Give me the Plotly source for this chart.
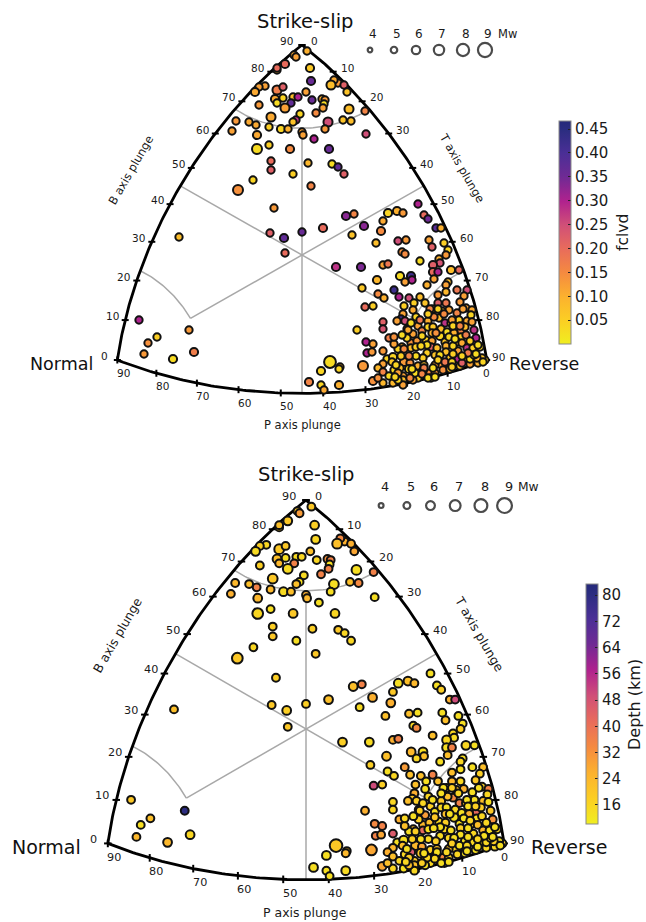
import numpy as np
import plotly.graph_objects as go

# Events, in diagram units (Kaverina coordinates x 328 horizontally, x 323 vertically)
event_x = [
 5,-8,-6,-25,-25,-17,8,9,36,32,
 29,42,45,-37,-43,-47,-25,-19,4,-27,
 -25,-19,-9,-4,-11,-17,10,20,23,22,
 21,14,47,63,-43,-31,-2,-6,-9,26,
 41,49,-66,-53,-46,-33,-21,-14,-70,23,
 0,1,-45,12,64,-45,-33,-12,27,-31,
 -31,6,30,36,42,-9,-49,-64,9,-28,
 44,21,0,-32,-18,-17,-123,52,62,50,
 79,74,86,81,95,101,116,122,126,134,
 139,96,104,127,130,142,146,144,100,103,
 118,137,138,131,131,136,59,34,81,86,
 149,157,75,98,109,110,103,132,125,60,
 146,144,155,165,76,92,97,107,118,136,
 144,162,82,63,71,102,112,101,111,114,
 123,136,131,144,147,158,140,155,164,170,
 137,126,99,95,103,81,81,116,120,105,
 111,126,131,143,149,157,165,138,139,151,
 159,163,172,130,124,159,174,109,115,130,
 143,155,160,64,71,100,96,109,114,129,
 135,144,165,156,171,178,65,70,81,144,
 125,133,121,85,91,90,61,102,108,81,
 76,81,92,101,98,107,116,122,140,133,
 148,156,165,171,176,183,180,148,158,168,
 128,133,141,148,121,111,116,71,81,91,
 101,111,101,129,-163,-145,-154,-158,-129,-113,
 -108,55,28,38,37,19,7,19,37,22,
 128,136,161,169,132,150,164,106,120,145,
 152,125,102,151,138,136,143,150,160,168,
 175,181,172,122,131,150,96,113,120,126,
 96,108,133,92,87,105,100,92,119,114,
 107,99,94,87,76,93,110,118,109,126,
 142,151,158,170,176,168,174,166,160,151,
 147,153,134]
event_y = [
 204,200,198,185,187,191,187,174,172,175,
 170,170,163,169,168,163,165,168,163,156,
 152,157,158,158,152,147,155,156,155,151,
 147,142,146,144,150,138,141,135,133,133,
 135,134,134,133,130,128,126,126,124,126,
 123,120,120,116,121,106,110,106,106,94,
 85,92,91,88,81,81,75,65,69,47,
 39,27,23,22,17,2,18,41,29,20,
 24,12,42,34,44,42,51,40,36,27,
 27,14,15,15,8,12,5,0,3,1,
 -6,-4,-8,-10,-17,-17,-12,-12,-10,-9,
 -15,-15,-25,-21,-21,-25,-27,-24,-30,-33,
 -27,-30,-35,-35,-39,-35,-42,-43,-42,-40,
 -37,-41,-43,-52,-51,-51,-48,-59,-55,-62,
 -48,-48,-54,-48,-55,-47,-56,-58,-53,-55,
 -63,-66,-64,-66,-66,-67,-74,-71,-76,-74,
 -79,-72,-72,-68,-68,-65,-66,-81,-74,-77,
 -76,-72,-75,-78,-85,-82,-83,-88,-86,-86,
 -87,-87,-88,-87,-89,-92,-94,-93,-92,-92,
 -93,-91,-93,-96,-93,-92,-98,-97,-96,-97,
 -98,-100,-103,-104,-102,-107,-111,-107,-108,-109,
 -113,-117,-115,-121,-113,-114,-111,-110,-110,-110,
 -103,-104,-104,-107,-108,-105,-103,-110,-111,-109,
 -118,-118,-115,-114,-115,-119,-123,-126,-128,-128,
 -125,-125,-130,-123,-65,-82,-88,-99,-104,-75,
 -97,-75,-107,-112,-114,-116,-127,-130,-130,-135,
 -54,-54,-54,-60,-62,-65,-80,-75,-81,-77,
 -78,-90,-94,-91,-100,-105,-107,-107,-108,-104,
 -103,-107,-100,-113,-113,-112,-118,-118,-119,-123,
 -125,-123,-122,-89,-83,-83,-80,-82,-91,-101,
 -101,-101,-110,-121,-123,-122,-114,-65,-68,-59,
 -59,-71,-71,-67,-90,-86,-99,-98,-101,-99,
 -82,-84,-78]
event_mw = [
 5,5,5,5,5,5.5,5.5,5.5,5,5,
 6,5,5,5,5,5.5,6,5,5,5.5,
 5,5,5,5,5,6,5,5,5,5,
 5,5,6,5,5,6,5,5,5,6,
 5,5,5,5,5,5,5.5,5,5,5,
 5,5,5.5,5,5,6.5,5,5.5,5.5,5,
 5,5,5,5,5,5,5,6.5,5,5,
 5.5,5.5,5,5,5.5,5,5,5,5.5,5,
 5.5,5,5.5,5,5.5,5,5,5,5,5,
 5,5,5,5,5,5,5,5,5,5,
 5,5,5,5.5,5.5,5,5.5,5.5,5,5,
 5.5,5,5.5,5.5,5.5,5,5,5,5,5,
 5,5,5,5,5,5,5,5,5,5,
 5,5,5,5,5,5,5,5,5,5,
 5,5,5,5,5,5,5,5,5,5,
 5,5,5,5,5,5,5,5,5,5,
 5,5,5,5,5,5,5,5.5,5,5,
 5,5,5,5,5,5,5,5,5,5,
 5,5,5,5,5,5,5,5,5,5,
 5,5,5,5,5,5,5,5,5,5,
 5,5,5,5,5.5,5,6.5,5.5,5,5,
 5,5,5,5,5,5.5,5,5,5.5,5,
 5,5,5,5,5,5,5,5,5,5,
 5,5,5,5,5,5,5,5.5,5,5,
 5,5,5,5,5,5,5,5,5.5,5,
 5.5,5,7.5,5,5,5.5,5.5,5,5.5,5,
 5,5,5,5,5,5,5,5,5,5,
 5,5,5,5,5,5,5,5,5,5,
 5,5,5,5,5,5,5,5,5,5,
 5,5,5,5,5,5,5,5,5,5,
 5,5,5,5,5,5,5,5,5,5,
 5,5,5,5,5,5,5,5,5,5,
 5,5,5]
event_fclvd = [
 .10,.11,.12,.09,.20,.20,.06,.36,.13,.11,
 .08,.22,.07,.12,.12,.11,.17,.22,.12,.11,
 .03,.04,.08,.30,.37,.12,.36,.10,.13,.03,
 .12,.15,.08,.16,.13,.11,.04,.28,.07,.25,
 .07,.08,.13,.11,.11,.05,.04,.10,.12,.13,
 .12,.12,.11,.30,.25,.03,.05,.15,.36,.20,
 .22,.09,.03,.37,.22,.05,.04,.14,.16,.13,
 .33,.20,.36,.22,.37,.20,.08,.16,.33,.07,
 .15,.08,.04,.11,.10,.13,.30,.20,.35,.38,
 .10,.25,.13,.12,.22,.05,.04,.13,.14,.15,
 .03,.10,.24,.22,.20,.30,.34,.28,.12,.18,
 .08,.20,.09,.03,.42,.30,.12,.12,.10,.06,
 .08,.12,.18,.25,.15,.42,.30,.25,.08,.13,
 .09,.12,.10,.20,.05,.05,.05,.12,.11,.04,
 .07,.22,.11,.18,.12,.13,.07,.16,.12,.11,
 .08,.10,.42,.12,.25,.22,.24,.12,.16,.11,
 .12,.04,.06,.28,.08,.05,.11,.04,.08,.13,
 .16,.08,.28,.10,.05,.05,.30,.14,.13,.12,
 .07,.08,.11,.30,.12,.10,.04,.08,.05,.22,
 .08,.10,.28,.12,.05,.04,.30,.13,.13,.07,
 .05,.07,.05,.04,.04,.06,.13,.13,.14,.12,
 .09,.16,.04,.12,.08,.04,.10,.08,.13,.12,
 .06,.30,.10,.07,.10,.06,.07,.05,.08,.12,
 .15,.14,.14,.08,.05,.11,.05,.14,.09,.09,
 .08,.12,.12,.05,.30,.05,.14,.13,.03,.13,
 .17,.05,.03,.10,.04,.04,.16,.04,.10,.11,
 .16,.04,.12,.04,.15,.12,.17,.11,.04,.03,
 .10,.03,.15,.04,.03,.05,.18,.04,.22,.03,
 .10,.04,.05,.17,.03,.05,.12,.03,.16,.03,
 .04,.15,.03,.12,.17,.04,.03,.14,.04,.03,
 .16,.05,.04,.03,.14,.04,.03,.18,.03,.05,
 .15,.04,.16,.12,.03,.05,.03,.17,.04,.05,
 .04,.03,.14]
event_depth = [
 20,20,30,18,22,20,18,16,26,34,
 22,26,28,16,18,15,20,20,22,22,
 24,14,15,16,36,15,16,32,36,14,
 36,36,14,36,18,20,15,14,22,14,
 22,34,24,22,36,24,15,22,26,14,
 26,24,24,14,14,16,14,20,16,18,
 20,18,20,16,16,14,16,20,20,18,
 22,22,18,20,18,20,22,36,26,15,
 26,22,14,20,22,24,14,14,18,26,
 50,22,14,14,22,14,14,18,16,34,
 22,16,15,16,14,36,15,18,26,36,
 16,14,22,24,14,22,16,22,14,18,
 14,16,14,22,14,30,22,22,36,22,
 14,18,16,50,18,22,14,26,14,16,
 22,24,18,16,26,20,22,14,18,36,
 34,20,20,22,18,16,16,18,14,24,
 30,16,14,36,18,14,22,14,16,20,
 42,18,20,22,16,14,32,24,22,18,
 14,16,22,34,36,22,14,42,14,16,
 14,18,24,16,14,16,36,28,46,14,
 15,16,18,14,14,22,28,24,28,24,
 26,22,16,20,46,18,18,22,16,22,
 14,16,14,18,16,18,14,15,14,16,
 34,18,16,14,36,22,16,28,16,14,
 22,14,16,16,20,22,14,24,24,80,
 16,26,20,22,24,14,14,14,15,14,
 14,18,14,16,22,14,16,18,20,14,
 26,14,18,14,14,18,14,16,14,16,
 18,14,16,14,16,14,18,16,16,14,
 22,18,14,22,26,18,14,16,14,16,
 14,18,14,16,22,16,14,14,16,14,
 16,14,18,14,14,16,14,14,16,14,
 14,16,14]

assert len(event_x)==len(event_y)==len(event_mw)==len(event_fclvd)==len(event_depth)

legend_mw = [4,5,6,7,8,9]
legend_x = [68,92,114,137,161,183]
legend_y = [205]*6
plunge_ticks = [0,10,20,30,40,50,60,70,80,90]
fclvd_ticks = [.05,.10,.15,.20,.25,.30,.35,.40,.45]
depth_ticks = [16,24,32,40,48,56,64,72,80]

SX, SY = 328.0, 323.0
W, H = 646, 922
INK = '#1a1a1a'
CSCALE = [[0,'#f0ee20'],[.1,'#fbd023'],[.21,'#fcb22e'],[.32,'#f58a40'],[.43,'#e86b5c'],
          [.535,'#d04f78'],[.64,'#b0228e'],[.75,'#6f2a94'],[.857,'#4a2f96'],[.96,'#2b2d80'],[1,'#25297a']]

def kave(zt, zb, zp):
    zt, zb, zp = np.asarray(zt,float), np.asarray(zb,float), np.asarray(zp,float)
    c = np.clip((zt+zb+zp)/np.sqrt(3),-1,1)
    L = 2*np.sin(0.5*np.arccos(c))
    N = np.sqrt(2*((zb-zp)**2+(zb-zt)**2+(zt-zp)**2))
    r = np.where(N>1e-9, L/np.where(N>1e-9,N,1), 0)
    return np.sqrt(1.5)*r*(zt-zp)*SX, (1/np.sqrt(2))*r*(2*zb-zp-zt)*SY

rad = np.radians
def edge_b(b): return kave(0*np.asarray(b,float), np.sin(rad(b)), np.cos(rad(b)))       # left, T=0
def edge_right(t): return kave(np.sin(rad(t)), np.cos(rad(t)), 0*np.asarray(t,float))   # right, P=0
def edge_bottom(p): return kave(np.cos(rad(p)), 0*np.asarray(p,float), np.sin(rad(p))) # bottom, B=0

A = 67.5
sA, cA = np.sin(rad(A)), np.cos(rad(A))
def grid_paths():
    v = []
    s = np.linspace(0, sA, 60)
    o = np.sqrt((1-s**2)/2)
    v.append(kave(s,o,o))     # zb=zp
    v.append(kave(o,o,s))     # zt=zb
    v.append(kave(o,s,o))     # zt=zp
    a = rad(np.linspace(0,90,60))
    v.append(kave(cA*np.sin(a), sA+0*a, cA*np.cos(a)))
    a = rad(np.linspace(0,45,40))
    v.append(kave(cA*np.sin(a), cA*np.cos(a), sA+0*a))
    v.append(kave(sA+0*a, cA*np.cos(a), cA*np.sin(a)))
    return v

def join(paths):
    xs, ys = [], []
    for x, y in paths:
        xs += list(x)+[None]; ys += list(y)+[None]
    return xs, ys

fig = go.Figure()
annots = []

def panel(sfx, color, cmin, cmax, tickvals, ticktext, cbtitle, cb_x, cb_top, cb_len,
          scale, shifts, legend_scale, ax_labels, leg_shift, leg_dx, leg_lab_dx, cbt):
    xa, ya = 'x'+sfx, 'y'+sfx
    gx, gy = join(grid_paths())
    fig.add_trace(go.Scatter(x=gx,y=gy,xaxis=xa,yaxis=ya,mode='lines',line=dict(color='#a8a8a8',width=1.5),hoverinfo='skip',showlegend=False))
    pt = np.array(plunge_ticks,float)
    L = 3.5
    paths=[]
    for f in (edge_b, edge_right):
        tx,ty = f(pt)
        for a,b in zip(tx,ty):
            paths.append(([a-L,a+L],[b,b]))
    tx,ty = edge_bottom(pt)
    for a,b in zip(tx,ty):
        paths.append(([a,a],[b-L,b+L]))
    tkx,tky = join(paths)
    fig.add_trace(go.Scatter(x=tkx,y=tky,xaxis=xa,yaxis=ya,mode='lines',line=dict(color='#000',width=2),hoverinfo='skip',showlegend=False))
    d = np.linspace(0,90,120)
    ex,ey = join([edge_b(d),edge_right(d),edge_bottom(d)])
    fig.add_trace(go.Scatter(x=ex,y=ey,xaxis=xa,yaxis=ya,mode='lines',line=dict(color='#000',width=2.8),hoverinfo='skip',showlegend=False))
    sizes = [(5.5+(m-4)*1.8)*scale for m in event_mw]
    fig.add_trace(go.Scatter(x=event_x,y=event_y,xaxis=xa,yaxis=ya,mode='markers',showlegend=False,cliponaxis=False,
        marker=dict(size=sizes,color=color,cmin=cmin,cmax=cmax,colorscale=CSCALE,opacity=1,
                    line=dict(color='#111',width=2.0),
                    colorbar=dict(x=cb_x/W,xref='paper',xanchor='left',xpad=0,ypad=0,y=1-cb_top/H,yref='paper',yanchor='top',
                        lenmode='pixels',len=cb_len,thickness=12,outlinecolor='#8a8a8a',outlinewidth=1,
                        tickmode='array',tickvals=tickvals,ticktext=ticktext,ticks='inside',ticklen=3,tickcolor='#222',
                        tickfont=dict(size=15,color=INK,family='DejaVu Sans')))))
    fig.add_trace(go.Scatter(x=[v+leg_dx for v in legend_x],y=legend_y,xaxis=xa,yaxis=ya,mode='markers',showlegend=False,cliponaxis=False,
        marker=dict(size=[(4.6+(m-4)*1.9)*legend_scale for m in legend_mw],color='white',line=dict(color='#000',width=2.2))))
    fs = 10.5*scale
    def note(x,y,text,dx,dy,size=fs,angle=0,color=INK):
        annots.append(dict(x=float(x),y=float(y),xref=xa,yref=ya,text=text,showarrow=False,xshift=dx,yshift=dy,textangle=angle,
                           font=dict(size=size,color=color,family='DejaVu Sans'),xanchor='center',yanchor='middle'))
    for m,xv,yv in zip(legend_mw,legend_x,legend_y):
        note(xv+leg_dx,yv,str(m),leg_lab_dx,leg_shift,12*scale)
    note(legend_x[-1]+leg_dx,legend_y[-1],'Mw',22*scale,leg_shift,11.5*scale)
    bx,by = edge_b(pt); rx,ry = edge_right(pt); px,py = edge_bottom(pt)
    for i,v in enumerate(plunge_ticks):
        dx = -16 if v==90 else -13
        note(bx[i],by[i],str(v),dx*scale,4,fs)
        note(rx[i],ry[i],str(v),(12 if v in (0,90) else 14)*scale,(4 if v!=90 else 3),fs)
        note(px[i],py[i],str(v),(0 if v==0 else 6)*scale,-13*scale,fs)
    note(bx[-1],by[-1],'Strike-slip',shifts['title'][0],shifts['title'][1],19.5,color='#111')
    note(bx[0],by[0],'Normal',shifts['normal'],-4,shifts['big'],color='#111')
    note(rx[-1],ry[-1],'Reverse',shifts['reverse'],-4,shifts['big'],color='#111')
    for txt,xv,yv,angle,size in ax_labels:
        note(xv,yv,txt,0,0,size,angle)
    annots.append(dict(x=cbt[0]/W,y=1-cbt[1]/H,xref='paper',yref='paper',text=cbtitle,showarrow=False,textangle=-90,
                       font=dict(size=cbt[2],color=INK,family='DejaVu Sans'),xanchor='center',yanchor='middle'))

panel('',event_fclvd,0.0,0.467,fclvd_ticks,['%.2f'%v for v in fclvd_ticks],'fclvd',559,121,223,
      1.0,dict(title=(3,24),big=17.5,normal=-56,reverse=57),1.0,
      [('P axis plunge',0,-170,0,11.5),('B axis plunge',-171,85,-60,11.5),('T axis plunge',160,87,60,11.5)],16,0,3,(623,233,15.5))
panel('2',event_depth,10.2,83.4,depth_ticks,[str(v) for v in depth_ticks],'Depth (km)',586,584,240,
      1.07,dict(title=(0,26),big=19,normal=-61,reverse=65),1.05,
      [('P axis plunge',-1,-168,0,12.5),('B axis plunge',-176,86,-60,12.5),('T axis plunge',162,87,60,12.5)],19,2,4,(634,705,16))

k2x, k2y = 352/SX, 352/SY
hide = dict(visible=False,showgrid=False,zeroline=False,fixedrange=True)
fig.update_layout(
    width=W,height=H,margin=dict(l=0,r=0,t=0,b=0),paper_bgcolor='white',plot_bgcolor='white',showlegend=False,
    xaxis=dict(domain=[0,1],range=[-302,W-302],anchor='y',**hide),
    yaxis=dict(domain=[1-450/H,1],range=[255-450,255],anchor='x',**hide),
    xaxis2=dict(domain=[0,1],range=[-306/k2x,(W-306)/k2x],anchor='y2',**hide),
    yaxis2=dict(domain=[0,1-450/H],range=[-(H-729)/k2y,(729-450)/k2y],anchor='x2',**hide),
    annotations=annots,font=dict(family='DejaVu Sans'))
fig.write_html("out.html",post_script="document.body.style.margin='0';document.documentElement.style.overflow='hidden';",config=dict(displayModeBar=False))
